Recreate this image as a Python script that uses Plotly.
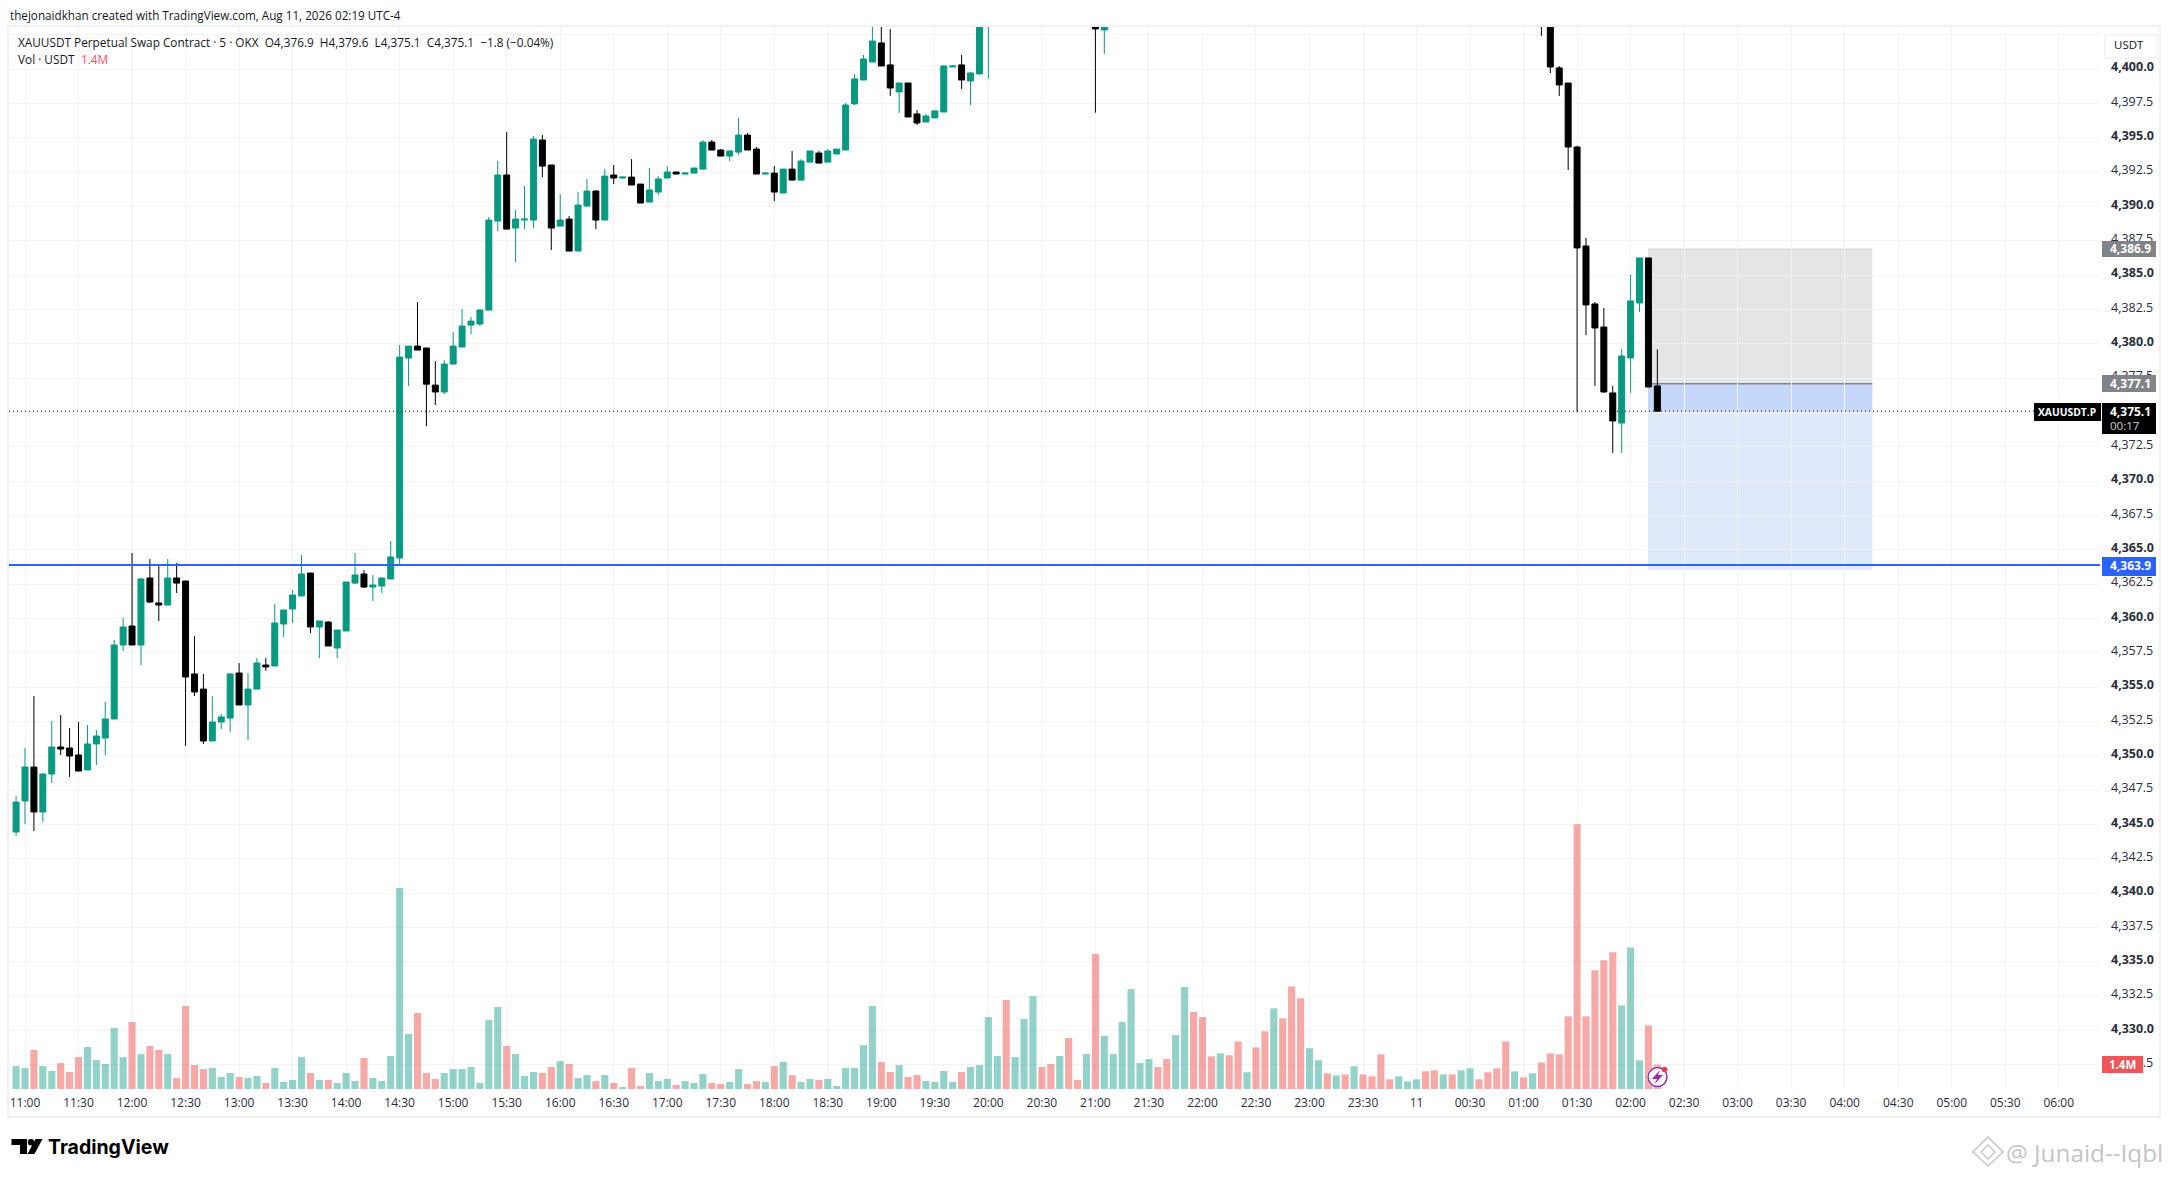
import plotly.graph_objects as go

opens = [
 4344.45,4346.71,4349.18,4345.91,4348.67,4350.64,4350.57,4350.06,4348.97,4350.86,
 4351.30,4352.68,4358.07,4359.45,4358.07,4362.95,4361.13,4360.98,4362.95,4362.73,
 4355.96,4354.86,4351.08,4352.46,4352.75,4356.03,4353.70,4354.86,4356.61,4356.54,
 4359.60,4360.69,4361.64,4363.31,4359.38,4359.74,4357.85,4359.09,4362.58,4363.24,
 4362.29,4362.37,4362.88,4364.41,4378.97,4379.84,4379.70,4377.00,4376.50,4378.53,
 4379.77,4381.37,4381.45,4382.46,4388.95,4392.30,4388.44,4389.02,4389.02,4394.85,
 4393.03,4388.58,4389.09,4386.76,4390.04,4391.13,4389.02,4392.30,4392.08,4392.15,
 4391.64,4390.33,4391.06,4392.08,4392.52,4392.37,4392.44,4392.73,4394.70,4394.12,
 4393.68,4393.97,4395.21,4394.19,4392.37,4392.44,4390.99,4392.73,4391.93,4393.24,
 4393.90,4393.24,4393.83,4394.12,4397.48,4399.22,4400.53,4401.92,4400.32,4398.35,
 4399.00,4396.75,4396.16,4396.46,4396.89,4400.17,4400.32,4399.15,4399.66,4405.00,
 4406.5,4408.0,4405.5,4407.0,4409.0,4411.5,4411.0,4410.0,4411.0,4409.0,
 4408.7,4410.0,4402.86,4405.0,4406.0,4408.0,4411.0,4411.7,4412.5,4412.0,
 4411.0,4413.0,4416.0,4413.5,4411.5,4410.5,4411.5,4410.5,4409.0,4409.5,
 4408.2,4406.6,4409.0,4407.4,4406.0,4404.6,4406.0,4407.0,4406.6,4407.0,
 4406.6,4407.3,4406.9,4406.5,4405.5,4405.2,4405.6,4405.8,4406.1,4405.6,
 4405.1,4405.5,4405.1,4405.6,4406.2,4405.9,4405.4,4404.8,4404.0,4404.6,
 4404.3,4404.8,4403.9,4400.10,4399.00,4394.34,4387.13,4382.91,4381.23,4376.43,
 4374.24,4378.98,4382.98,4386.26,4376.94]
closes = [
 4346.63,4349.18,4345.91,4348.67,4350.64,4350.49,4349.98,4348.89,4350.86,4351.44,
 4352.68,4358.07,4359.38,4358.07,4362.88,4361.20,4360.98,4362.95,4362.58,4355.74,
 4354.65,4351.08,4352.46,4352.83,4355.96,4353.70,4354.86,4356.76,4356.47,4359.67,
 4360.62,4361.71,4363.24,4359.38,4359.82,4358.00,4359.16,4362.66,4363.17,4362.29,
 4362.44,4362.95,4364.48,4379.04,4379.84,4379.55,4377.07,4376.50,4378.53,4379.84,
 4381.30,4381.66,4382.46,4389.02,4392.30,4388.36,4389.09,4389.09,4394.92,4392.95,
 4388.44,4389.02,4386.76,4390.11,4391.13,4389.02,4392.22,4392.08,4392.15,4391.57,
 4390.26,4391.21,4392.01,4392.52,4392.37,4392.44,4392.81,4394.70,4394.12,4393.68,
 4394.05,4395.21,4394.12,4392.37,4392.44,4391.06,4392.73,4391.93,4393.32,4394.05,
 4393.17,4394.05,4394.19,4397.40,4399.30,4400.75,4402.06,4400.24,4398.64,4399.00,
 4396.53,4396.09,4396.60,4396.97,4400.24,4400.24,4399.22,4399.73,4405.00,4406.50,
 4408.0,4405.5,4407.0,4409.0,4411.5,4411.0,4410.0,4411.0,4409.0,4408.7,
 4410.0,4402.94,4405.0,4406.0,4408.0,4411.0,4411.7,4412.5,4412.0,4411.0,
 4413.0,4416.0,4413.5,4411.5,4410.5,4411.5,4410.5,4409.0,4409.5,4408.2,
 4406.6,4409.0,4407.4,4406.0,4404.6,4406.0,4407.0,4406.6,4407.0,4406.6,
 4407.3,4406.9,4406.5,4405.5,4405.2,4405.6,4405.8,4406.1,4405.6,4405.1,
 4405.5,4405.1,4405.6,4406.2,4405.9,4405.4,4404.8,4404.0,4404.6,4404.3,
 4404.8,4404.0,4400.17,4398.86,4394.34,4386.99,4382.84,4381.16,4376.50,4374.39,
 4379.12,4383.13,4386.26,4376.86,4375.10]
highs = [
 4347.07,4350.57,4354.35,4348.75,4352.53,4352.97,4352.02,4352.46,4352.24,4351.88,
 4353.92,4358.43,4360.04,4364.77,4362.95,4364.33,4363.82,4364.33,4364.04,4362.73,
 4358.72,4355.96,4354.35,4353.04,4356.03,4356.76,4356.03,4357.12,4357.12,4361.06,
 4360.62,4362.08,4364.62,4363.31,4359.82,4359.82,4359.16,4362.66,4364.77,4363.53,
 4363.17,4363.02,4365.64,4379.92,4379.84,4383.05,4379.70,4378.75,4378.82,4380.86,
 4382.54,4381.96,4382.54,4389.24,4393.32,4395.43,4389.75,4391.50,4395.14,4395.21,
 4393.03,4390.91,4389.31,4391.06,4392.01,4391.21,4392.73,4393.03,4392.15,4393.46,
 4391.64,4392.81,4392.22,4392.95,4392.52,4392.52,4392.81,4394.85,4394.85,4394.19,
 4394.12,4396.45,4395.36,4394.34,4392.52,4392.95,4392.73,4394.05,4393.46,4394.05,
 4394.05,4394.19,4394.19,4397.54,4399.66,4401.04,4403.30,4403.40,4402.94,4399.00,
 4399.00,4397.04,4396.75,4397.04,4400.32,4400.32,4401.04,4399.81,4405.30,4406.80,
 4408.3,4408.3,4407.3,4409.3,4411.8,4411.8,4411.3,4411.3,4411.3,4409.3,
 4410.3,4410.5,4405.5,4406.3,4408.3,4411.3,4412.0,4412.8,4412.8,4412.3,
 4413.3,4416.3,4416.3,4413.8,4411.8,4411.8,4411.8,4410.8,4409.8,4409.8,
 4408.5,4409.3,4409.3,4407.7,4406.3,4406.3,4407.3,4407.3,4407.3,4407.3,
 4407.6,4407.6,4407.2,4406.8,4405.8,4405.9,4406.1,4406.4,4406.4,4405.9,
 4405.8,4405.8,4405.9,4406.5,4406.5,4406.2,4405.7,4405.1,4404.9,4404.9,
 4405.1,4405.1,4404.2,4400.24,4399.00,4394.42,4387.72,4383.05,4382.62,4376.94,
 4379.63,4385.02,4386.26,4386.26,4379.60]
lows = [
 4344.16,4345.03,4344.52,4345.18,4348.02,4350.06,4348.46,4348.89,4348.97,4349.33,
 4350.06,4352.68,4357.63,4358.07,4356.61,4361.13,4359.82,4360.98,4361.86,4350.71,
 4354.35,4350.86,4351.08,4351.95,4351.73,4353.70,4351.15,4354.86,4356.18,4356.54,
 4358.65,4359.67,4361.64,4358.94,4357.12,4358.00,4357.12,4359.09,4362.51,4362.22,
 4361.27,4361.86,4362.88,4363.97,4376.93,4379.55,4374.00,4375.55,4376.35,4378.53,
 4379.77,4380.72,4381.30,4382.46,4388.22,4388.36,4385.96,4388.36,4388.44,4392.15,
 4386.83,4388.58,4386.76,4386.76,4390.04,4388.36,4389.02,4391.64,4392.01,4391.57,
 4390.26,4390.33,4390.84,4392.08,4392.37,4392.37,4392.44,4392.73,4394.12,4393.68,
 4393.32,4393.76,4394.12,4392.37,4392.37,4390.40,4390.99,4391.93,4391.93,4393.24,
 4393.17,4393.24,4393.83,4394.12,4397.40,4399.22,4400.53,4400.24,4398.06,4396.82,
 4396.53,4395.95,4396.16,4396.46,4396.89,4400.17,4398.57,4397.40,4399.66,4399.30,
 4406.2,4405.2,4405.2,4406.7,4408.7,4410.7,4409.7,4409.7,4408.7,4408.4,
 4408.4,4396.84,4401.12,4404.7,4405.7,4407.7,4410.7,4411.4,4411.7,4410.7,
 4410.7,4412.7,4413.2,4411.2,4410.2,4410.2,4410.2,4408.7,4408.7,4407.9,
 4406.3,4406.3,4407.1,4405.7,4404.3,4404.3,4405.7,4406.3,4406.3,4406.3,
 4406.3,4406.6,4406.2,4405.2,4404.9,4404.9,4405.3,4405.5,4405.3,4404.8,
 4404.8,4404.8,4404.8,4405.3,4405.6,4405.1,4404.5,4403.7,4403.7,4404.0,
 4404.0,4402.43,4399.73,4398.06,4392.67,4375.05,4380.65,4376.94,4376.43,4372.06,
 4372.06,4376.43,4382.33,4376.86,4375.10]
volumes_m = [
 1.30,1.19,2.21,1.30,1.02,1.47,0.96,1.81,2.38,1.64,
 1.42,3.46,1.81,3.80,1.98,2.44,2.21,1.98,0.62,4.71,
 1.36,1.13,1.19,0.68,0.91,0.68,0.62,0.74,0.34,1.19,
 0.40,0.51,1.81,0.91,0.51,0.51,0.34,0.91,0.45,1.76,
 0.62,0.45,1.87,11.40,3.12,4.31,0.91,0.57,0.91,1.13,
 1.13,1.25,0.34,3.91,4.65,2.44,1.98,0.74,0.96,0.91,
 1.25,1.59,1.42,0.62,0.79,0.45,
 0.79,0.34,0.11,1.19,0.17,0.91,0.45,0.57,0.23,0.45,
 0.34,0.85,0.34,0.28,0.40,1.13,0.28,0.45,0.40,1.30,
 1.53,0.79,0.40,0.57,0.51,0.57,0.17,1.19,1.19,2.49,
 4.71,1.53,0.96,1.36,0.68,0.79,0.45,0.40,1.02,0.40,
 0.96,1.25,1.36,4.08,1.87,5.05,1.81,3.97,5.27,1.25,
 1.42,1.87,2.89,0.51,1.98,7.65,3.01,1.98,3.80,5.67,
 1.47,1.70,1.25,1.70,3.06,5.78,4.37,4.08,
 1.85,2.02,1.91,2.70,0.95,2.36,3.27,4.57,4.01,5.82,
 5.14,2.31,1.63,0.89,0.77,0.83,1.29,0.83,0.72,1.97,
 0.55,0.72,0.43,0.55,1.00,1.06,0.83,0.83,1.06,1.17,
 0.55,0.95,1.17,2.70,1.00,0.66,0.89,1.51,2.02,1.97,
 4.12,15.01,4.12,6.73,7.30,7.75,4.74,8.03,1.63,3.61,1.38]

time_labels = ["11:00","11:30","12:00","12:30","13:00","13:30","14:00","14:30","15:00","15:30",
 "16:00","16:30","17:00","17:30","18:00","18:30","19:00","19:30","20:00","20:30","21:00","21:30",
 "22:00","22:30","23:00","23:30","11","00:30","01:00","01:30","02:00","02:30","03:00","03:30",
 "04:00","04:30","05:00","05:30","06:00"]
price_ticks = [4327.5 + 2.5 * k for k in range(30)]

last_price = 4375.1
level_line = 4363.9
stop_price = 4386.9
entry_price = 4377.1
target_price = 4363.55

W, H = 2171, 1177
L, R, T, B = 9, 2100, 27, 1089
PX_PER_BAR = 8.92
PX_PER_PRICE = 13.73
X0 = (L - 25) / PX_PER_BAR
X1 = (R - 25) / PX_PER_BAR
Y1 = 4400 + (69.3 - T) / PX_PER_PRICE
Y0 = 4400 - (B - 69.3) / PX_PER_PRICE
VOL_PX = 0.0567
LABEL_LIFT = 0.16

xs = [i - 1 for i in range(len(opens))]
UP, DOWN = "#089981", "#000000"
UPV, DOWNV = "rgba(8,153,129,0.44)", "rgba(239,83,80,0.5)"
vol_colors = [UPV if c >= o else DOWNV for o, c in zip(opens, closes)]

def xp(px): return (px - L) / (R - L)
def yp(py): return 1 - (py - T) / (B - T)

FONT = "Open Sans"
TXT = "#131722"

fig = go.Figure()
fig.add_trace(go.Bar(x=xs, y=volumes_m, yaxis="y2", marker=dict(color=vol_colors, line_width=0),
                     width=0.8, showlegend=False, hoverinfo="skip"))
fig.add_trace(go.Candlestick(x=xs, open=opens, high=highs, low=lows, close=closes, whiskerwidth=0,
    increasing=dict(line=dict(color=UP, width=1), fillcolor=UP),
    decreasing=dict(line=dict(color=DOWN, width=1), fillcolor=DOWN), showlegend=False))
fig.add_trace(go.Scatter(x=[None], y=[None], yaxis="y3", mode="markers", showlegend=False, hoverinfo="skip"))

shapes, anns = [], []

def rect_px(x0, y0, x1, y1, fill, line=None, lw=0, layer="above"):
    shapes.append(dict(type="rect", xref="paper", yref="paper", x0=xp(x0), x1=xp(x1), y0=yp(y1), y1=yp(y0),
                       fillcolor=fill, line=dict(color=line or "rgba(0,0,0,0)", width=lw), layer=layer))

def path_px(pts, fill=None, line=None, lw=0, close=True):
    d = "M" + " L".join(f"{xp(a):.5f},{yp(b):.5f}" for a, b in pts) + (" Z" if close else "")
    shapes.append(dict(type="path", xref="paper", yref="paper", path=d, fillcolor=fill or "rgba(0,0,0,0)",
                       line=dict(color=line or "rgba(0,0,0,0)", width=lw), layer="above"))

def circ_px(cx, cy, r, fill, line=None, lw=0, dash=None):
    ln = dict(color=line or "rgba(0,0,0,0)", width=lw)
    if dash: ln["dash"] = dash
    shapes.append(dict(type="circle", xref="paper", yref="paper", x0=xp(cx - r), x1=xp(cx + r),
                       y0=yp(cy + r), y1=yp(cy - r), fillcolor=fill, line=ln, layer="above"))

def text_px(x, y, s, size=12, color=TXT, anchor="left", font=FONT):
    anns.append(dict(xref="paper", yref="paper", x=xp(x), y=yp(y), text=s, showarrow=False, xanchor=anchor,
                     yanchor="middle", font=dict(family=font, size=size, color=color), align="left",
                     borderpad=0, borderwidth=0))

box_x0, box_x1 = 182 - 0.05, 207.1
shapes.append(dict(type="rect", xref="x", yref="y", x0=box_x0, x1=box_x1, y0=entry_price, y1=stop_price,
                   fillcolor="rgba(120,123,134,0.2)", line_width=0, layer="below"))
shapes.append(dict(type="rect", xref="x", yref="y", x0=box_x0, x1=box_x1, y0=target_price, y1=entry_price,
                   fillcolor="rgba(33,110,235,0.15)", line_width=0, layer="below"))
shapes.append(dict(type="rect", xref="x", yref="y", x0=box_x0, x1=box_x1, y0=last_price, y1=entry_price,
                   fillcolor="rgba(33,110,235,0.13)", line_width=0, layer="below"))
shapes.append(dict(type="line", xref="x", yref="y", x0=box_x0, x1=box_x1, y0=stop_price, y1=stop_price,
                   line=dict(color="#cccccc", width=1), layer="below"))
shapes.append(dict(type="line", xref="x", yref="y", x0=box_x0, x1=box_x1, y0=entry_price, y1=entry_price,
                   line=dict(color="#858585", width=1.5), layer="below"))

shapes.append(dict(type="line", xref="paper", yref="y", x0=0, x1=1, y0=level_line, y1=level_line,
                   line=dict(color="#2962ff", width=2), layer="above"))
shapes.append(dict(type="line", xref="paper", yref="y", x0=0, x1=xp(2034), y0=last_price, y1=last_price,
                   line=dict(color="#000000", width=1, dash="1px,3px"), layer="above"))

FR = "#f0f1f3"
rect_px(8, 26, 2160, 1117, "rgba(0,0,0,0)", FR, 2)

text_px(10, 15, "thejonaidkhan created with TradingView.com, Aug 11, 2026 02:19 UTC-4", 11.7)
text_px(18, 42, "XAUUSDT Perpetual Swap Contract · 5 · OKX&nbsp;&nbsp;O4,376.9&nbsp;&nbsp;H4,379.6&nbsp;&nbsp;L4,375.1&nbsp;&nbsp;C4,375.1&nbsp;&nbsp;−1.8 (−0.04%)", 11.8)
text_px(18, 59, "Vol · USDT", 11.8)
text_px(81, 59, "1.4M", 11.8, "#f7525f")

shapes.append(dict(type="rect", xref="paper", yref="paper", x0=xp(2105), x1=xp(2157), y0=yp(58), y1=yp(35),
                   fillcolor="#ffffff", line=dict(color="#f0f1f3", width=1.5), layer="above"))
text_px(2114, 45, "USDT", 11.5)

rect_px(2102, 241, 2156, 257, "#808388")
text_px(2110, 249, "<b>4,386.9</b>", 12, "#ffffff")
rect_px(2102, 375, 2156, 392, "#808388")
text_px(2110, 383.5, "<b>4,377.1</b>", 12, "#ffffff")
rect_px(2102, 403, 2156, 434, "#000000")
text_px(2110, 411, "<b>4,375.1</b>", 12, "#ffffff")
text_px(2110, 425, "00:17", 11.5, "#d0d0d0")
rect_px(2034, 403, 2101, 421, "#000000")
text_px(2038, 412, "<b>XAUUSDT.P</b>", 10.3, "#ffffff")
rect_px(2102, 557, 2156, 576, "#2962ff")
text_px(2110, 565, "<b>4,363.9</b>", 12, "#ffffff")
rect_px(2102, 1056, 2143, 1073, "#f0555a")
text_px(2122.5, 1064.5, "<b>1.4M</b>", 11.5, "#ffffff", "center")

circ_px(1657.5, 1077, 10.5, "#ffffff")
circ_px(1657.5, 1077, 9.5, "#ffffff", "#9c27b0", 1.5)
path_px([(1660, 1070), (1652, 1079), (1657, 1079), (1654.5, 1084), (1663, 1075), (1658, 1075)], "#9c27b0")
circ_px(1664.5, 1069.5, 2.8, "#f23645")

LOGO = "#000000"
path_px([(11.5, 1139), (27, 1139), (27, 1154), (20, 1154), (20, 1145), (11.5, 1145)], LOGO)
circ_px(31, 1142.2, 3.2, LOGO)
path_px([(35.5, 1139), (42.5, 1139), (34.5, 1154), (27.5, 1154)], LOGO)
text_px(48, 1147, "<b>TradingView</b>", 19.5, "#000000", font="Inter")

WM = "#c8c8cc"
path_px([(1988, 1137), (2003, 1152), (1988, 1166), (1973, 1152)], None, WM, 1.6)
path_px([(1988, 1145), (1995, 1152), (1988, 1159), (1981, 1152)], None, WM, 1.4)
text_px(2006, 1152, "@ Junaid--Iqbl", 24.3, "#c4c4c8", font="Open Sans")

fig.update_layout(
    width=W, height=H, autosize=False,
    margin=dict(l=L, r=W - R, t=T, b=H - B),
    paper_bgcolor="#ffffff", plot_bgcolor="#ffffff", showlegend=False,
    bargap=0.2, boxgap=0.33, boxgroupgap=0, hovermode=False,
    shapes=shapes, annotations=anns,
    xaxis=dict(range=[X0, X1], type="linear", rangeslider=dict(visible=False), showgrid=True,
               gridcolor="#f2f3f4", gridwidth=1, zeroline=False, showline=False, ticks="",
               tickmode="array", tickvals=[6 * k for k in range(len(time_labels))], ticktext=time_labels,
               tickfont=dict(family=FONT, size=12, color="#2a2e39"), ticklabelstandoff=5),
    yaxis=dict(range=[Y0, Y1], side="right", showgrid=True, gridcolor="#f2f3f4", gridwidth=1, zeroline=False,
               showline=False, ticks="", tickmode="array", tickvals=price_ticks + [4402.5],
               showticklabels=False),
    yaxis2=dict(overlaying="y", range=[0, (B - T) * VOL_PX], visible=False, showgrid=False, zeroline=False),
    yaxis3=dict(overlaying="y", side="right", range=[Y0 - LABEL_LIFT, Y1 - LABEL_LIFT], showgrid=False,
                zeroline=False, showline=False, ticks="", tickmode="array", tickvals=price_ticks,
                ticktext=[(f"<b>{p:,.1f}</b>" if p % 5 == 0 else f"{p:,.1f}") for p in price_ticks],
                tickfont=dict(family=FONT, size=12.5, color="#2a2e39"), ticklabelstandoff=10),
)
fig.write_html("out.html", config=dict(displayModeBar=False),
               post_script="document.body.style.margin='0';document.documentElement.style.overflow='hidden';")
